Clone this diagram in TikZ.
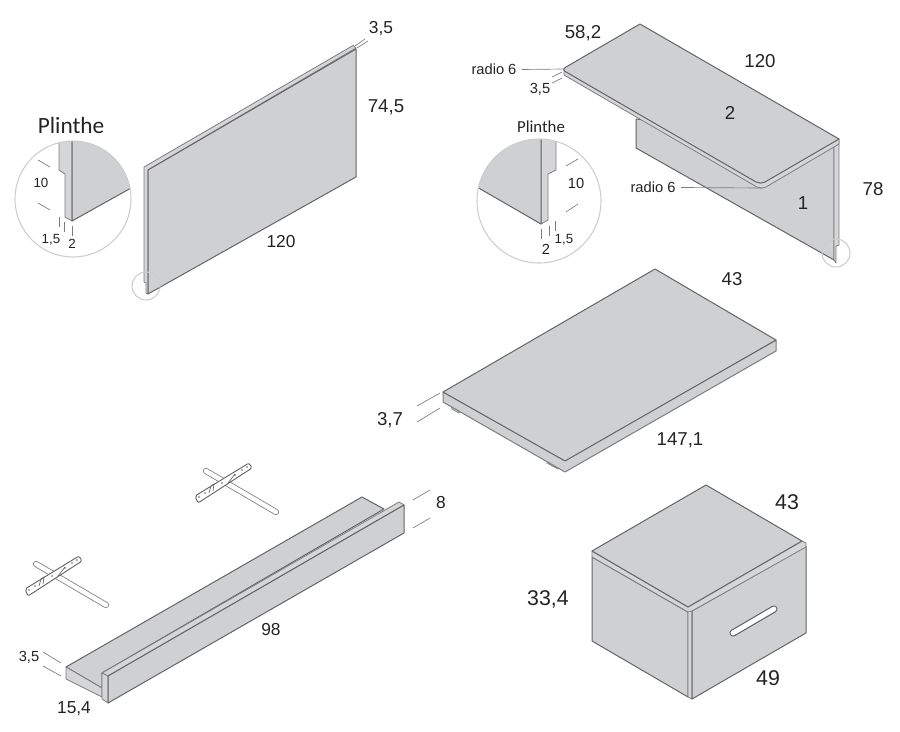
\documentclass[tikz,border=0pt]{standalone}
\usepackage{fontspec}
\setmainfont{Liberation Sans}
\newfontfamily\plinthefont{Carlito}
\definecolor{facegray}{RGB}{207,208,210}
\definecolor{stripgray}{RGB}{214,214,216}
\definecolor{linegray}{RGB}{100,100,102}
\definecolor{thingray}{RGB}{125,125,127}
\definecolor{ringgray}{RGB}{205,205,205}
\definecolor{inkgray}{RGB}{35,35,35}
\tikzset{every picture/.style={line width=0.75pt},
  panel/.style={draw=linegray,fill=facegray,line join=round},
  stripface/.style={draw=thingray,fill=stripgray,line join=round,line width=0.6pt},
  tickline/.style={draw=thingray,line width=0.5pt},
  ring/.style={draw=ringgray,line width=0.8pt},
  lblnight/.style={inner sep=0.75pt,text=inkgray,font=\fontsize{16}{18}\selectfont},
  lblbig/.style={inner sep=0.75pt,text=inkgray,font=\fontsize{14}{16}\selectfont},
  lblmid/.style={inner sep=0.75pt,text=inkgray,font=\fontsize{13}{15}\selectfont},
  lblnote/.style={inner sep=0.75pt,text=inkgray,font=\fontsize{11}{13}\selectfont},
  lblsmall/.style={inner sep=0.75pt,text=inkgray,font=\fontsize{10}{12}\selectfont}}

\begin{document}
\begin{tikzpicture}[x=0.75pt,y=0.75pt,yscale=-1,xscale=1]
\useasboundingbox (0,0) rectangle (900,732);

%Shape: left panel
\draw [stripface] (144,167) -- (353,45.5) -- (356,48) -- (148,170) -- (148,294) -- (146,293) -- (146,283) -- (144,282) -- cycle ;
\draw [panel] (148,170) -- (356,49) -- (356,177) -- (148,294) -- cycle ;
\draw [ring] (146,286) circle (14);
%Straight Lines: left panel ticks
\draw [tickline] (355,46) -- (365,39) ;
\draw [tickline] (357,48) -- (368,41) ;

%Shape: left detail circle
\begin{scope}
\clip (73,199) circle (58);
\draw [stripface] (59,135) -- (59,170) -- (65,174) -- (65,217) -- (72,221) -- (72,135) -- cycle ;
\draw [panel] (72,135) -- (140,135) -- (140,183) -- (72,221) -- cycle ;
\end{scope}
\draw [ring] (73,199) circle (58);
\draw [tickline] (38,160) -- (50,167) ;
\draw [tickline] (38,203) -- (50,210) ;
\draw [tickline] (59,217) -- (59,227) ;
\draw [tickline] (64,222) -- (64,232) ;
\draw [tickline] (72,226) -- (72,236) ;

%Shape: desk side panel
\draw [panel] (636,119) -- (636,148) -- (834,260) -- (834,140) -- cycle ;
\draw [stripface] (834,145) -- (839,140) -- (839,245) -- (836,246) -- (836,263) -- (834,260) -- cycle ;
%Shape: desk top
\draw [stripface] (564,69) -- (564,75) -- (757,187) .. controls (760,188.5) and (763,188.5) .. (766,187) -- (839,144) -- (839,139) -- cycle ;
\draw [panel] (640,24) -- (839,139) -- (765,182) .. controls (762,183.5) and (759,183.5) .. (756,182) -- (566,72) .. controls (563,70.5) and (563,68.5) .. (566,67) -- cycle ;
\draw [ring] (836,253) circle (14);
\draw [tickline] (552,77) -- (562,72) ;
\draw [tickline] (552,83) -- (562,78) ;

%Shape: right detail circle
\begin{scope}
\clip (539,201) circle (62);
\draw [stripface] (556,130) -- (556,170) -- (548,174) -- (548,220) -- (541,224) -- (541,130) -- cycle ;
\draw [panel] (541,130) -- (470,130) -- (470,183) -- (541,224) -- cycle ;
\end{scope}
\draw [ring] (539,201) circle (62);
\draw [tickline] (566,166) -- (578,159) ;
\draw [tickline] (566,212) -- (578,204) ;
\draw [tickline] (555,221) -- (555,231) ;
\draw [tickline] (549,226) -- (549,236) ;
\draw [tickline] (541,229) -- (541,239) ;

%Shape: table top with feet
\draw [stripface] (450,404) -- (452,409) -- (459,413) -- (461,410) -- cycle ;
\draw [stripface] (547,458) -- (547,463) -- (558,469) -- (560,465) -- cycle ;
\draw [panel,draw=thingray] (443,392) -- (443,402) -- (565,472) -- (776,351) -- (776,340) -- (565,460) -- cycle ;
\draw [panel] (655,269) -- (776,340) -- (565,461) -- (443,392) -- cycle ;
\draw [tickline] (417,406) -- (440,393) ;
\draw [tickline] (417,422) -- (440,408) ;

%Shape: shelf
\draw [panel] (66,667) -- (362,497) -- (384,509) -- (102,673) -- (102,688) -- cycle ;
\draw [stripface] (66,667) -- (102,688) -- (102,697) -- (66,679) -- cycle ;
\draw [stripface] (102,673) -- (399,502) -- (404,505) -- (108,676) -- cycle ;
\draw [stripface] (102,673) -- (108,676) -- (108,703) -- (102,699) -- cycle ;
\draw [panel] (108,676) -- (404,505) -- (404,533) -- (108,703) -- cycle ;
\draw [tickline] (43,652) -- (61,663) ;
\draw [tickline] (43,666) -- (61,676) ;
\draw [tickline] (413,500) -- (430,490) ;
\draw [tickline] (413,528) -- (430,518) ;

%Shape: brackets
\foreach \dx/\dy in {0/0,170/-93}
{
\begin{scope}[shift={(\dx,\dy)}]
\draw [thingray,line width=4.6pt,line cap=round] (36,564) -- (106,605) ;
\draw [white,line width=3.4pt,line cap=round] (36,564) -- (106,605) ;
\draw [draw=linegray,fill=white,line width=0.7pt,rounded corners=1.5pt] (25,589) -- (79,556) -- (82,561) -- (28,596) -- cycle ;
\draw [draw=linegray,line width=0.5pt] (39,586) -- (41,579) -- (44,577) -- (43,584) ;
\draw [draw=linegray,line width=0.5pt] (58,576) -- (65,567) ;
\foreach \hx/\hy in {29/590,35/586,52/576,65/568,72/563,77/560}
{
\fill [linegray] (\hx,\hy) circle (0.9);
}
\end{scope}
}

%Shape: nightstand
\draw [panel] (592,557) -- (592,641) -- (688,697) -- (688,612) -- cycle ;
\draw [stripface] (688,608) -- (692,608) -- (692,699) -- (688,697) -- cycle ;
\draw [panel] (692,611) -- (806,546) -- (806,633) -- (692,699) -- cycle ;
\draw [stripface] (592,551) -- (592,557) -- (688,612) -- (692,611) -- (806,547) -- (806,543) -- (802,541) -- (688,607) -- cycle ;
\draw [panel] (706,485) -- (802,541) -- (688,607) -- (592,551) -- cycle ;
\draw [linegray,line width=5.4pt,line cap=round] (733,633) -- (774,609) ;
\draw [white,line width=3.6pt,line cap=round] (733,633) -- (774,609) ;

%Straight Lines: leaders
\coordinate (radiotop) at (564,69);
\coordinate (radiolow) at (762,188);
\node [lblnote] (radioa) at (494,69.5) {radio 6};
\node [lblnote] (radiob) at (653,187.5) {radio 6};
\draw [tickline] (radioa.east) ++(4,0) -- (radiotop) ;
\draw [tickline] (radiob.east) ++(4,0) -- (radiolow) ;

% Text Node
\node [font=\plinthefont\fontsize{17.5}{20}\selectfont,inner sep=0.75pt,text=inkgray] (plinthea) at (71,125) {Plinthe};
\node [font=\plinthefont\fontsize{12.6}{15}\selectfont,inner sep=0.75pt,text=inkgray] (plintheb) at (541,127) {Plinthe};
\node [lblsmall] (tena) at (41,183) {10};
\node [lblsmall] (fivea) at (51,240) {1,5};
\node [lblsmall] (twoa) at (72,244) {2};
\node [lblnote] (tenb) at (576,183) {10};
\node [lblsmall] (fiveb) at (564,240) {1,5};
\node [lblnote] (twob) at (546,249) {2};
\node [lblmid] (panelthick) at (381,29) {3,5};
\node [lblbig] (panelheight) at (386,107) {74,5};
\node [lblmid] (panelwidth) at (281,242) {120};
\node [lblbig] (deskdepth) at (583,33) {58,2};
\node [lblbig] (deskwidth) at (760,61) {120};
\node [lblnote] (deskthick) at (540,89) {3,5};
\node [lblbig] (pieceb) at (730,113) {2};
\node [lblbig] (piecea) at (803,203) {1};
\node [lblbig] (deskheight) at (873,189) {78};
\node [lblbig] (tabledepth) at (732,279) {43};
\node [lblbig] (tablethick) at (390,420) {3,7};
\node [lblbig] (tablelength) at (680,440) {147,1};
\node [lblmid] (shelfheight) at (441,503) {8};
\node [lblmid] (shelflength) at (271,630) {98};
\node [lblnote] (shelfthick) at (29,657) {3,5};
\node [lblmid] (shelfdepth) at (74,709) {15,4};
\node [lblnight] (nightdepth) at (787,502) {43};
\node [lblnight] (nightheight) at (548,599) {33,4};
\node [lblnight] (nightwidth) at (768,678) {49};

\end{tikzpicture}
\end{document}
